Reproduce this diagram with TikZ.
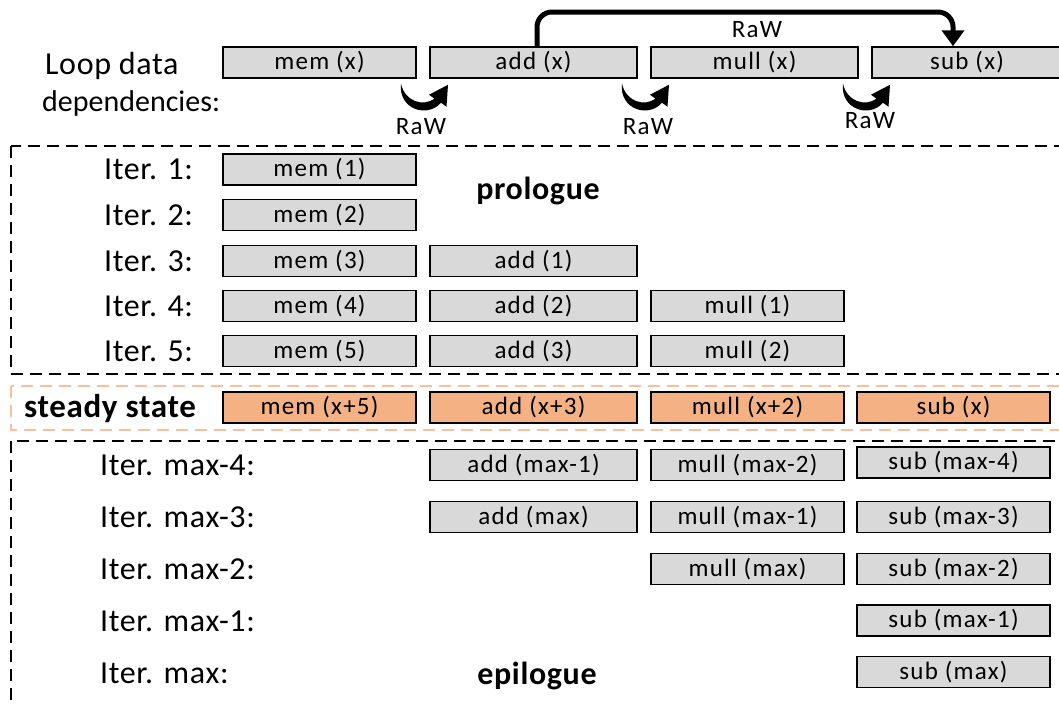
\documentclass[tikz,border=0pt]{standalone}
\usepackage{fontspec}
\setmainfont{Carlito}
\newfontfamily\spacedfont[LetterSpace=5]{Carlito}
\newfontfamily\labelfont[LetterSpace=2]{Carlito}
\usetikzlibrary{arrows.meta,calc}

\definecolor{boxgray}{HTML}{D9D9D9}
\definecolor{steadyfill}{HTML}{F4B183}
\definecolor{steadydash}{HTML}{F8C09A}

\tikzset{
  op/.style={draw=black, line width=1.5pt, fill=boxgray, minimum height=31pt,
    inner sep=0pt, font=\spacedfont\fontsize{25}{26}\selectfont},
  steadyop/.style={op, fill=steadyfill},
  w1/.style={minimum width=193pt},
  w2/.style={minimum width=207pt},
  iterlabel/.style={anchor=west, inner sep=0pt, font=\labelfont\fontsize{32}{34}\selectfont},
  phaselabel/.style={anchor=base, inner sep=0pt, font=\labelfont\bfseries\fontsize{32}{34}\selectfont},
  rawlabel/.style={inner sep=0pt, font=\spacedfont\fontsize{25}{26}\selectfont},
  phasebox/.style={line width=2pt, dash pattern=on 12pt off 7pt},
  rawcurl/.pic={
    \fill (-22,3) .. controls (-25,28) and (4,38) .. (18,22)
      -- (23.5,26) -- (25,4) -- (6,14) -- (11.5,18)
      .. controls (0,26) and (-18,21) .. cycle;
  }
}

\begin{document}
\begin{tikzpicture}[x=1pt,y=-1pt]
\useasboundingbox (0,0) rectangle (1059,704);
\clip (0,0) rectangle (1059,704);

% phase frames
\draw[phasebox] (11,146) rectangle (1080,374);
\draw[phasebox, steadydash] (11,386) rectangle (1080,430);
\draw[phasebox] (11,441) rectangle (1080,730);

% loop body with its dependencies
\node[anchor=base west, inner sep=0pt, font=\labelfont\fontsize{32}{33}\selectfont] (loop1) at (45,74) {Loop data};
\node[anchor=base west, inner sep=0pt, font=\fontsize{30}{33}\selectfont] (loop2) at (42,111) {dependencies:};

\node[op, w1] (memx) at (319.5,62.5) {mem (x)};
\node[op, w2] (addx) at (533.5,62.5) {add (x)};
\node[op, w2] (mullx) at (754.5,62.5) {mull (x)};
\node[op, minimum width=190pt] (subx) at (967,62.5) {sub (x)};

\pic at ($(memx.south east)!.5!(addx.south west)+(0,2)$) {rawcurl};
\pic at ($(addx.south east)!.5!(mullx.south west)+(0,2)$) {rawcurl};
\pic at ($(mullx.south east)!.5!(subx.south west)+(0,2)$) {rawcurl};
\node[rawlabel] (raw1) at (421,127) {RaW};
\node[rawlabel] (raw2) at (648,127) {RaW};
\node[rawlabel] (raw3) at (870,121) {RaW};

\coordinate (rawtop) at (953,12);
\draw[line width=5pt, rounded corners=15pt, -{Triangle[length=16pt,width=22pt]}]
  ([xshift=3.5pt]addx.north) |- (rawtop) -- (rawtop |- subx.north);
\node[rawlabel] (raw4) at (757,30) {RaW};

% prologue
\node[iterlabel] (it1) at (104,169.5) {Iter. 1:};
\node[iterlabel] (it2) at (104,215) {Iter. 2:};
\node[iterlabel] (it3) at (104,261) {Iter. 3:};
\node[iterlabel] (it4) at (104,306) {Iter. 4:};
\node[iterlabel] (it5) at (104,351) {Iter. 5:};

\node[op, w1] (m1) at (319.5,169.5) {mem (1)};
\node[op, w1] (m2) at (319.5,215) {mem (2)};
\node[op, w1] (m3) at (319.5,261) {mem (3)};
\node[op, w1] (m4) at (319.5,306) {mem (4)};
\node[op, w1] (m5) at (319.5,351) {mem (5)};
\node[op, w2] (a1) at (533.5,261) {add (1)};
\node[op, w2] (a2) at (533.5,306) {add (2)};
\node[op, w2] (a3) at (533.5,351) {add (3)};
\node[op, w1] (u1) at (747.5,306) {mull (1)};
\node[op, w1] (u2) at (747.5,351) {mull (2)};
\node[phaselabel] (pro) at (538,199) {prologue};

% steady state
\node[phaselabel, font=\labelfont\bfseries\fontsize{33}{34}\selectfont] (steady) at (110,417) {steady state};
\node[steadyop, w1] (ms) at (319.5,407.5) {mem (x+5)};
\node[steadyop, w2] (as) at (533.5,407.5) {add (x+3)};
\node[steadyop, w1] (us) at (747.5,407.5) {mull (x+2)};
\node[steadyop, w1] (ss) at (953.5,407.5) {sub (x)};

% epilogue
\node[iterlabel] (e1) at (100,465) {Iter. max-4:};
\node[iterlabel] (e2) at (100,517) {Iter. max-3:};
\node[iterlabel] (e3) at (100,569) {Iter. max-2:};
\node[iterlabel] (e4) at (100,621) {Iter. max-1:};
\node[iterlabel] (e5) at (100,673) {Iter. max:};

\node[op, w2] (ae1) at (533.5,465) {add (max-1)};
\node[op, w2] (ae2) at (533.5,517) {add (max)};
\node[op, w1] (ue1) at (747.5,465) {mull (max-2)};
\node[op, w1] (ue2) at (747.5,517) {mull (max-1)};
\node[op, w1] (ue3) at (747.5,569) {mull (max)};
\node[op, w1] (se1) at (953.5,462.5) {sub (max-4)};
\node[op, w1] (se2) at (953.5,517) {sub (max-3)};
\node[op, w1] (se3) at (953.5,569) {sub (max-2)};
\node[op, w1] (se4) at (953.5,620.5) {sub (max-1)};
\node[op, w1] (se5) at (953.5,672) {sub (max)};
\node[phaselabel] (epi) at (537,684) {epilogue};
\end{tikzpicture}
\end{document}
